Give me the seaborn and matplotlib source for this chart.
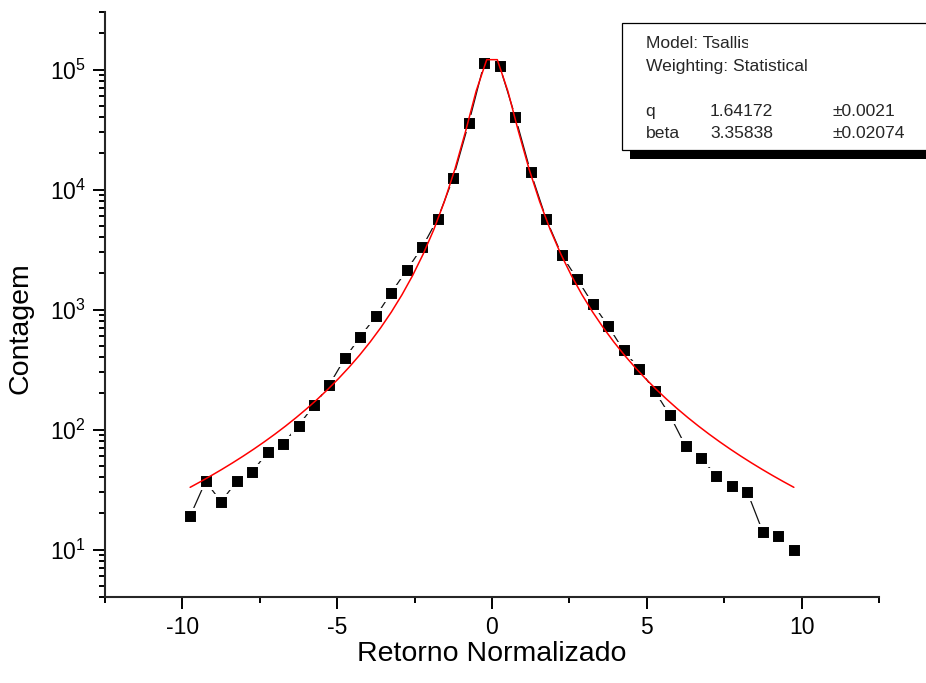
import numpy as np
import pandas as pd
import seaborn as sns
import matplotlib
matplotlib.use("Agg")
import matplotlib.pyplot as plt
from matplotlib.patches import Rectangle
from matplotlib.ticker import LogLocator, MultipleLocator, LogFormatterSciNotation, NullFormatter
from matplotlib.transforms import Bbox

# Normalised return bins and their counts
retorno = [-9.75, -9.25, -8.75, -8.25, -7.75, -7.25, -6.75, -6.25, -5.75, -5.25,
           -4.75, -4.25, -3.75, -3.25, -2.75, -2.25, -1.75, -1.25, -0.75, -0.25,
           0.25, 0.75, 1.25, 1.75, 2.25, 2.75, 3.25, 3.75, 4.25, 4.75,
           5.25, 5.75, 6.25, 6.75, 7.25, 7.75, 8.25, 8.75, 9.25, 9.75]
contagem = [19, 37, 25, 37, 44, 65, 76, 108, 159, 237,
            393, 596, 880, 1386, 2138, 3324, 5735, 12590, 35900, 113500,
            106500, 40600, 13930, 5690, 2851, 1799, 1122, 730, 457, 322,
            210, 131, 73, 58, 41, 34, 30, 14, 13, 10]

# Tsallis (q-Gaussian) fit parameters
q_fit, q_err = 1.64172, 0.0021
beta_fit, beta_err = 3.35838, 0.02074
amplitude = 1.33e5
n_curve = 58

x_ticks = [-10, -5, 0, 5, 10]

sns.set_style("ticks")
plt.rcParams["font.family"] = ["Liberation Sans", "DejaVu Sans"]
plt.rcParams["mathtext.fontset"] = "custom"
plt.rcParams["mathtext.rm"] = "Liberation Sans"
plt.rcParams["mathtext.default"] = "regular"
plt.rcParams["axes.unicode_minus"] = False

W, H = 926, 683
fig = plt.figure(figsize=(W / 100, H / 100), dpi=100)
left, right, top, bottom = 105, 879, 12.3, 597.3
ax = fig.add_axes([left / W, 1 - bottom / H, (right - left) / W, (bottom - top) / H])

data = pd.DataFrame({"retorno": retorno, "contagem": contagem})
xc = np.linspace(min(retorno), max(retorno), n_curve)
yc = amplitude * (1 + (q_fit - 1) * beta_fit * xc ** 2) ** (1 / (1 - q_fit))
fit = pd.DataFrame({"retorno": xc, "contagem": yc})

sns.lineplot(data=data, x="retorno", y="contagem", ax=ax, color="#111111",
             linewidth=0.9, marker="s", markersize=10.4, markerfacecolor="black",
             markeredgecolor="white", markeredgewidth=2.2, zorder=3)
sns.lineplot(data=fit, x="retorno", y="contagem", ax=ax, color="#ff0000",
             linewidth=1.1, zorder=4)

ax.set_yscale("log")
ax.set_xlim(-12.5, 12.5)
ax.set_ylim(4, 3e5)
ax.xaxis.set_major_locator(plt.FixedLocator(x_ticks))
ax.xaxis.set_minor_locator(MultipleLocator(2.5))
ax.yaxis.set_major_locator(LogLocator(base=10, numticks=10))
ax.yaxis.set_minor_locator(LogLocator(base=10, subs=np.arange(2, 10), numticks=20))
ax.yaxis.set_major_formatter(LogFormatterSciNotation())
ax.yaxis.set_minor_formatter(NullFormatter())

for side in ("top", "right"):
    ax.spines[side].set_visible(False)
for side in ("left", "bottom"):
    ax.spines[side].set_linewidth(1.5)
ax.tick_params(which="major", direction="out", length=8.6, width=1.4,
               labelsize=16.5, color="black", labelcolor="black", pad=5)
ax.tick_params(which="minor", direction="out", length=4.5, width=1.4, color="black")

ax.set_xlabel("Retorno Normalizado", fontsize=20.5, color="black")
ax.set_ylabel("Contagem", fontsize=20.5, color="black")
ax.xaxis.set_label_coords(0.5, -0.074)
ax.yaxis.set_label_coords(-0.093, 0.46)

# Fit summary box with a drop shadow
def fx(px):
    return px / W

def fy(py):
    return 1 - py / H

fig.add_artist(Rectangle((fx(630), fy(159.3)), fx(W + 20) - fx(630), fy(150) - fy(159.3),
                         transform=fig.transFigure, facecolor="black", edgecolor="none"))
fig.add_artist(Rectangle((fx(622), fy(150)), fx(W + 20) - fx(622), fy(22.7) - fy(150),
                         transform=fig.transFigure, facecolor="white", edgecolor="black",
                         linewidth=0.9))

fs = 12.6
t = fig.text(fx(645.7), fy(48.3), "Model: Tsallis", fontsize=fs, va="baseline")
t.set_clip_box(Bbox.from_extents(0, 0, 748, H))
t.set_clip_on(True)
fig.text(fx(645.7), fy(71), "Weighting: Statistical", fontsize=fs, va="baseline")
rows = [("q", q_fit, q_err, 115.7), ("beta", beta_fit, beta_err, 138.3)]
for name, val, err, py in rows:
    fig.text(fx(645.7), fy(py), name, fontsize=fs, va="baseline")
    fig.text(fx(710), fy(py), f"{val}", fontsize=fs, va="baseline")
    fig.text(fx(832.7), fy(py), f"\u00b1{err}", fontsize=fs, va="baseline")

fig.savefig("out.png", dpi=100, facecolor="white")
